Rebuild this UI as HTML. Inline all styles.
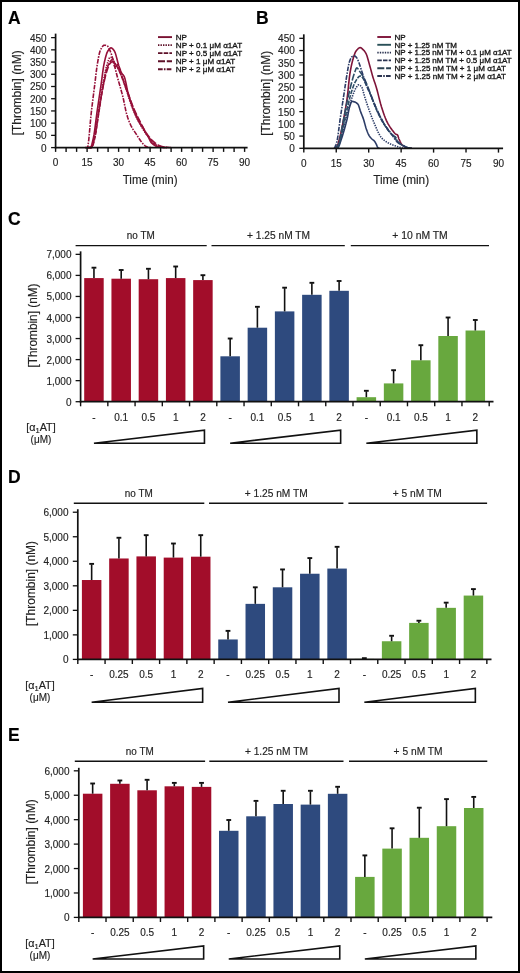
<!DOCTYPE html>
<html><head><meta charset="utf-8"><style>
html,body{margin:0;padding:0;background:#fff;}
body{width:520px;height:973px;overflow:hidden;}
svg{display:block;font-family:"Liberation Sans",sans-serif;will-change:transform;}
text{stroke-width:0.15px;paint-order:stroke;}
</style></head><body>
<svg width="520" height="973" viewBox="0 0 520 973">
<rect x="0" y="0" width="520" height="973" fill="#fff"/>
<text x="8.1" y="23.5" font-size="17.5" font-weight="bold" fill="#000" stroke="#000">A</text>
<path d="M87.1 147.6 L87.62 147.6 L88.15 147.6 L88.68 147.6 L89.2 147.6 L89.72 147.6 L90.25 147.6 L90.78 147.19 L91.3 146.07 L91.83 144.4 L92.35 142.36 L92.88 140.11 L93.4 137.82 L94 134.74 L94.59 130.81 L95.19 126.31 L95.78 121.54 L96.38 116.81 L96.97 112.41 L97.63 107.81 L98.3 103.26 L98.97 98.75 L99.63 94.26 L100.3 89.78 L100.96 85.28 L101.52 81.31 L102.08 77.12 L102.64 72.95 L103.2 68.98 L103.76 65.45 L104.32 62.55 L104.88 60.1 L105.44 57.79 L106 55.7 L106.56 53.88 L107.12 52.4 L107.68 51.31 L108.24 50.45 L108.8 49.64 L109.36 48.94 L109.92 48.38 L110.48 48.02 L111.04 47.88 L111.6 48.01 L112.16 48.35 L112.72 48.87 L113.28 49.52 L113.84 50.27 L114.4 51.06 L115.14 52.59 L115.87 54.88 L116.61 57.63 L117.34 60.55 L118.08 63.35 L118.81 65.73 L119.3 67.11 L119.79 68.46 L120.28 69.76 L120.77 70.98 L121.26 72.09 L121.75 73.06 L122.17 73.74 L122.59 74.3 L123.01 74.81 L123.43 75.33 L123.85 75.95 L124.27 76.72 L124.94 78.63 L125.6 81.33 L126.27 84.52 L126.93 87.88 L127.59 91.09 L128.26 93.83 L129.13 96.91 L130.01 99.82 L130.89 102.58 L131.76 105.19 L132.64 107.65 L133.51 109.96 L134.42 112.25 L135.33 114.45 L136.24 116.54 L137.15 118.5 L138.06 120.3 L138.97 121.94 L139.63 122.98 L140.3 123.91 L140.97 124.77 L141.63 125.62 L142.29 126.53 L142.96 127.56 L143.42 128.37 L143.87 129.28 L144.33 130.23 L144.78 131.18 L145.23 132.1 L145.69 132.94 L146.15 133.68 L146.6 134.35 L147.06 135 L147.51 135.65 L147.97 136.34 L148.42 137.09 L148.84 137.91 L149.26 138.84 L149.68 139.81 L150.1 140.75 L150.52 141.58 L150.94 142.22 L151.5 142.87 L152.06 143.43 L152.62 143.92 L153.18 144.36 L153.74 144.77 L154.3 145.16 L154.65 145.4 L155 145.64 L155.35 145.87 L155.7 146.08 L156.05 146.25 L156.4 146.38 L157.1 146.56 L157.8 146.7 L158.5 146.82 L159.2 146.92 L159.9 147.02 L160.6 147.11 L161.3 147.2 L162 147.29 L162.7 147.37 L163.4 147.44 L164.1 147.52 L164.8 147.6" fill="none" stroke="#961039" stroke-width="1.6" stroke-linejoin="round"/>
<path d="M87.1 147.6 L87.8 147.6 L88.5 147.6 L89.2 147.6 L89.9 147.6 L90.6 147.6 L91.3 147.6 L91.83 147.18 L92.35 146.03 L92.88 144.33 L93.4 142.28 L93.93 140.05 L94.45 137.82 L95.15 134.46 L95.85 130.29 L96.55 125.58 L97.25 120.61 L97.95 115.64 L98.65 110.94 L99.35 106.36 L100.05 101.66 L100.75 96.97 L101.45 92.39 L102.15 88.05 L102.85 84.06 L103.55 80.28 L104.25 76.58 L104.95 73.05 L105.65 69.8 L106.35 66.91 L107.05 64.5 L107.58 62.85 L108.1 61.18 L108.62 59.64 L109.15 58.36 L109.68 57.49 L110.2 57.17 L110.55 57.22 L110.9 57.35 L111.25 57.55 L111.6 57.81 L111.95 58.09 L112.3 58.39 L112.65 58.79 L113 59.34 L113.35 60 L113.7 60.7 L114.05 61.41 L114.4 62.06 L115.1 63.25 L115.8 64.41 L116.5 65.57 L117.2 66.77 L117.9 68.03 L118.6 69.39 L119.65 71.65 L120.7 74.11 L121.75 76.75 L122.8 79.51 L123.85 82.37 L124.9 85.28 L125.95 88.37 L127 91.7 L128.05 95.15 L129.1 98.58 L130.15 101.85 L131.2 104.83 L132.25 107.56 L133.3 110.18 L134.35 112.69 L135.4 115.07 L136.45 117.34 L137.5 119.49 L138.55 121.54 L139.6 123.49 L140.65 125.36 L141.7 127.15 L142.75 128.85 L143.8 130.49 L144.85 132.07 L145.9 133.61 L146.95 135.08 L148 136.49 L149.05 137.81 L150.1 139.05 L151.15 140.23 L152.2 141.4 L153.25 142.51 L154.3 143.53 L155.35 144.42 L156.4 145.16 L157.1 145.59 L157.8 146 L158.5 146.38 L159.2 146.71 L159.9 146.96 L160.6 147.11 L161.65 147.24 L162.7 147.33 L163.75 147.4 L164.8 147.47 L165.85 147.53 L166.9 147.6" fill="none" stroke="#961039" stroke-width="1.6" stroke-dasharray="1.4 1.1" stroke-linejoin="round"/>
<path d="M88.15 147.6 L88.75 147.6 L89.34 147.6 L89.94 147.6 L90.53 147.6 L91.12 147.6 L91.72 147.6 L92.25 147.18 L92.77 146.03 L93.3 144.33 L93.82 142.28 L94.34 140.05 L94.87 137.82 L95.57 134.44 L96.27 130.24 L96.97 125.51 L97.67 120.52 L98.37 115.57 L99.07 110.94 L99.77 106.5 L100.47 102.01 L101.17 97.55 L101.87 93.21 L102.57 89.09 L103.27 85.28 L103.9 81.99 L104.53 78.73 L105.16 75.61 L105.79 72.74 L106.42 70.22 L107.05 68.17 L107.58 66.74 L108.1 65.43 L108.62 64.25 L109.15 63.21 L109.68 62.31 L110.2 61.57 L110.55 61.12 L110.9 60.67 L111.25 60.26 L111.6 59.93 L111.95 59.7 L112.3 59.62 L112.65 59.82 L113 60.35 L113.35 61.08 L113.7 61.9 L114.05 62.67 L114.4 63.28 L114.75 63.73 L115.1 64.13 L115.45 64.49 L115.8 64.86 L116.15 65.26 L116.5 65.73 L117.2 66.83 L117.9 68.12 L118.6 69.55 L119.3 71.07 L120 72.67 L120.7 74.28 L121.75 76.83 L122.8 79.6 L123.85 82.51 L124.9 85.49 L125.95 88.48 L127 91.39 L128.05 94.29 L129.1 97.24 L130.15 100.2 L131.2 103.1 L132.25 105.88 L133.3 108.5 L134.35 110.95 L135.4 113.32 L136.45 115.59 L137.5 117.78 L138.55 119.89 L139.6 121.94 L140.65 123.92 L141.7 125.85 L142.75 127.71 L143.8 129.51 L144.85 131.25 L145.9 132.94 L146.6 134.03 L147.3 135.1 L148 136.14 L148.7 137.15 L149.4 138.12 L150.1 139.05 L150.8 139.97 L151.5 140.9 L152.2 141.81 L152.9 142.64 L153.6 143.36 L154.3 143.93 L155.35 144.62 L156.4 145.25 L157.45 145.79 L158.5 146.25 L159.55 146.61 L160.6 146.87 L161.65 147.04 L162.7 147.18 L163.75 147.29 L164.8 147.39 L165.85 147.49 L166.9 147.6" fill="none" stroke="#961039" stroke-width="1.6" stroke-dasharray="4.5 1.2" stroke-linejoin="round"/>
<path d="M88.15 147.6 L88.68 147.6 L89.2 147.6 L89.72 147.6 L90.25 147.6 L90.78 147.6 L91.3 147.6 L91.83 147.17 L92.35 146.01 L92.88 144.31 L93.4 142.25 L93.93 140.03 L94.45 137.82 L95.15 134.53 L95.85 130.5 L96.55 125.99 L97.25 121.26 L97.95 116.57 L98.65 112.16 L99.35 107.92 L100.05 103.61 L100.75 99.33 L101.45 95.19 L102.15 91.28 L102.85 87.72 L103.55 84.41 L104.25 81.21 L104.95 78.19 L105.65 75.38 L106.35 72.84 L107.05 70.61 L107.58 69.08 L108.1 67.59 L108.62 66.2 L109.15 64.98 L109.68 63.99 L110.2 63.28 L110.62 62.85 L111.04 62.45 L111.46 62.1 L111.88 61.82 L112.3 61.64 L112.72 61.57 L113.11 61.97 L113.49 62.97 L113.88 64.26 L114.26 65.55 L114.65 66.55 L115.03 66.95 L115.45 66.77 L115.87 66.31 L116.29 65.73 L116.71 65.14 L117.13 64.69 L117.55 64.5 L118.08 64.94 L118.6 66.09 L119.12 67.71 L119.65 69.57 L120.18 71.43 L120.7 73.06 L121.75 75.91 L122.8 78.76 L123.85 81.61 L124.9 84.46 L125.95 87.31 L127 90.17 L128.05 93.06 L129.1 96.02 L130.15 98.98 L131.2 101.88 L132.25 104.66 L133.3 107.27 L134.35 109.72 L135.4 112.06 L136.45 114.31 L137.5 116.49 L138.55 118.62 L139.6 120.72 L140.65 122.82 L141.7 124.92 L142.75 126.97 L143.8 128.94 L144.85 130.78 L145.9 132.45 L146.95 133.97 L148 135.42 L149.05 136.78 L150.1 138.04 L151.15 139.21 L152.2 140.27 L153.25 141.26 L154.3 142.22 L155.35 143.11 L156.4 143.92 L157.45 144.61 L158.5 145.16 L159.55 145.61 L160.6 146.02 L161.65 146.38 L162.7 146.7 L163.75 146.94 L164.8 147.11 L165.85 147.23 L166.9 147.32 L167.95 147.39 L169 147.46 L170.05 147.53 L171.1 147.6" fill="none" stroke="#961039" stroke-width="1.6" stroke-dasharray="7 1.8" stroke-linejoin="round"/>
<path d="M85 147.6 L85.39 147.6 L85.77 147.6 L86.16 147.6 L86.54 147.6 L86.92 147.6 L87.31 147.6 L87.97 145.77 L88.64 140.96 L89.31 134.2 L89.97 126.51 L90.64 118.9 L91.3 112.41 L91.86 107.74 L92.42 103.15 L92.98 98.62 L93.54 94.15 L94.1 89.7 L94.66 85.28 L95.15 81.29 L95.64 77.18 L96.13 73.09 L96.62 69.18 L97.11 65.62 L97.6 62.55 L98.06 59.99 L98.51 57.51 L98.97 55.22 L99.42 53.19 L99.88 51.53 L100.33 50.33 L101 48.99 L101.66 47.77 L102.33 46.73 L102.99 45.92 L103.66 45.39 L104.32 45.2 L104.78 45.21 L105.23 45.26 L105.69 45.33 L106.14 45.43 L106.59 45.55 L107.05 45.69 L107.58 46.04 L108.1 46.71 L108.62 47.63 L109.15 48.71 L109.68 49.88 L110.2 51.06 L111.43 54.31 L112.65 58.42 L113.88 63.11 L115.1 68.08 L116.33 73.04 L117.55 77.7 L118.43 80.8 L119.3 83.83 L120.18 86.85 L121.05 89.93 L121.93 93.13 L122.8 96.52 L123.5 99.54 L124.2 102.87 L124.9 106.32 L125.6 109.68 L126.3 112.75 L127 115.34 L127.7 117.53 L128.4 119.54 L129.1 121.39 L129.8 123.08 L130.5 124.65 L131.2 126.09 L132.04 127.67 L132.88 129.09 L133.72 130.41 L134.56 131.66 L135.4 132.9 L136.24 134.16 L137.15 135.57 L138.06 136.99 L138.97 138.4 L139.88 139.75 L140.79 141.04 L141.7 142.22 L142.22 142.88 L142.75 143.53 L143.28 144.16 L143.8 144.74 L144.33 145.24 L144.85 145.64 L145.38 145.98 L145.9 146.28 L146.43 146.56 L146.95 146.79 L147.47 146.98 L148 147.11 L148.7 147.23 L149.4 147.32 L150.1 147.4 L150.8 147.46 L151.5 147.53 L152.2 147.6" fill="none" stroke="#961039" stroke-width="1.6" stroke-dasharray="4.7 1.2 1.6 1.2" stroke-linejoin="round"/>
<line x1="55.6" y1="33.62" x2="55.6" y2="148.4" stroke="#111" stroke-width="1.7"/>
<line x1="54.8" y1="147.6" x2="247.6" y2="147.6" stroke="#111" stroke-width="1.7"/>
<line x1="51.1" y1="147.6" x2="55.6" y2="147.6" stroke="#111" stroke-width="1.3"/>
<text x="46.6" y="151.5" font-size="10" text-anchor="end" fill="#222" stroke="#222">0</text>
<line x1="51.1" y1="135.38" x2="55.6" y2="135.38" stroke="#111" stroke-width="1.3"/>
<text x="46.6" y="139.28" font-size="10" text-anchor="end" fill="#222" stroke="#222">50</text>
<line x1="51.1" y1="123.16" x2="55.6" y2="123.16" stroke="#111" stroke-width="1.3"/>
<text x="46.6" y="127.06" font-size="10" text-anchor="end" fill="#222" stroke="#222">100</text>
<line x1="51.1" y1="110.94" x2="55.6" y2="110.94" stroke="#111" stroke-width="1.3"/>
<text x="46.6" y="114.84" font-size="10" text-anchor="end" fill="#222" stroke="#222">150</text>
<line x1="51.1" y1="98.72" x2="55.6" y2="98.72" stroke="#111" stroke-width="1.3"/>
<text x="46.6" y="102.62" font-size="10" text-anchor="end" fill="#222" stroke="#222">200</text>
<line x1="51.1" y1="86.5" x2="55.6" y2="86.5" stroke="#111" stroke-width="1.3"/>
<text x="46.6" y="90.4" font-size="10" text-anchor="end" fill="#222" stroke="#222">250</text>
<line x1="51.1" y1="74.28" x2="55.6" y2="74.28" stroke="#111" stroke-width="1.3"/>
<text x="46.6" y="78.18" font-size="10" text-anchor="end" fill="#222" stroke="#222">300</text>
<line x1="51.1" y1="62.06" x2="55.6" y2="62.06" stroke="#111" stroke-width="1.3"/>
<text x="46.6" y="65.96" font-size="10" text-anchor="end" fill="#222" stroke="#222">350</text>
<line x1="51.1" y1="49.84" x2="55.6" y2="49.84" stroke="#111" stroke-width="1.3"/>
<text x="46.6" y="53.74" font-size="10" text-anchor="end" fill="#222" stroke="#222">400</text>
<line x1="51.1" y1="37.62" x2="55.6" y2="37.62" stroke="#111" stroke-width="1.3"/>
<text x="46.6" y="41.52" font-size="10" text-anchor="end" fill="#222" stroke="#222">450</text>
<line x1="55.6" y1="147.6" x2="55.6" y2="151.9" stroke="#111" stroke-width="1.4"/>
<line x1="66.1" y1="147.6" x2="66.1" y2="151.9" stroke="#111" stroke-width="1.4"/>
<line x1="76.6" y1="147.6" x2="76.6" y2="151.9" stroke="#111" stroke-width="1.4"/>
<line x1="87.1" y1="147.6" x2="87.1" y2="151.9" stroke="#111" stroke-width="1.4"/>
<line x1="97.6" y1="147.6" x2="97.6" y2="151.9" stroke="#111" stroke-width="1.4"/>
<line x1="108.1" y1="147.6" x2="108.1" y2="151.9" stroke="#111" stroke-width="1.4"/>
<line x1="118.6" y1="147.6" x2="118.6" y2="151.9" stroke="#111" stroke-width="1.4"/>
<line x1="129.1" y1="147.6" x2="129.1" y2="151.9" stroke="#111" stroke-width="1.4"/>
<line x1="139.6" y1="147.6" x2="139.6" y2="151.9" stroke="#111" stroke-width="1.4"/>
<line x1="150.1" y1="147.6" x2="150.1" y2="151.9" stroke="#111" stroke-width="1.4"/>
<line x1="160.6" y1="147.6" x2="160.6" y2="151.9" stroke="#111" stroke-width="1.4"/>
<line x1="171.1" y1="147.6" x2="171.1" y2="151.9" stroke="#111" stroke-width="1.4"/>
<line x1="181.6" y1="147.6" x2="181.6" y2="151.9" stroke="#111" stroke-width="1.4"/>
<line x1="192.1" y1="147.6" x2="192.1" y2="151.9" stroke="#111" stroke-width="1.4"/>
<line x1="202.6" y1="147.6" x2="202.6" y2="151.9" stroke="#111" stroke-width="1.4"/>
<line x1="213.1" y1="147.6" x2="213.1" y2="151.9" stroke="#111" stroke-width="1.4"/>
<line x1="223.6" y1="147.6" x2="223.6" y2="151.9" stroke="#111" stroke-width="1.4"/>
<line x1="234.1" y1="147.6" x2="234.1" y2="151.9" stroke="#111" stroke-width="1.4"/>
<line x1="244.6" y1="147.6" x2="244.6" y2="151.9" stroke="#111" stroke-width="1.4"/>
<text x="55.6" y="166.1" font-size="10" text-anchor="middle" fill="#222" stroke="#222">0</text>
<text x="87.1" y="166.1" font-size="10" text-anchor="middle" fill="#222" stroke="#222">15</text>
<text x="118.6" y="166.1" font-size="10" text-anchor="middle" fill="#222" stroke="#222">30</text>
<text x="150.1" y="166.1" font-size="10" text-anchor="middle" fill="#222" stroke="#222">45</text>
<text x="181.6" y="166.1" font-size="10" text-anchor="middle" fill="#222" stroke="#222">60</text>
<text x="213.1" y="166.1" font-size="10" text-anchor="middle" fill="#222" stroke="#222">75</text>
<text x="244.6" y="166.1" font-size="10" text-anchor="middle" fill="#222" stroke="#222">90</text>
<text x="150.1" y="183.6" font-size="12.3" text-anchor="middle" textLength="54.8" lengthAdjust="spacingAndGlyphs" fill="#222" stroke="#222">Time (min)</text>
<text transform="translate(21.4 92.8) rotate(-90)" text-anchor="middle" font-size="12" fill="#222" stroke="#222" textLength="85" lengthAdjust="spacingAndGlyphs">[Thrombin] (nM)</text>
<line x1="158" y1="37.1" x2="172" y2="37.1" stroke="#7a1232" stroke-width="1.9"/>
<text x="175.8" y="39.9" font-size="7.7" textLength="11.2" lengthAdjust="spacingAndGlyphs" fill="#151515" stroke="#151515" style="stroke-width:0.32px">NP</text>
<line x1="158" y1="45.13" x2="172" y2="45.13" stroke="#5e1028" stroke-width="1.9" stroke-dasharray="1.4 1.1"/>
<text x="175.8" y="47.93" font-size="7.7" textLength="66.3" lengthAdjust="spacingAndGlyphs" fill="#151515" stroke="#151515" style="stroke-width:0.32px">NP + 0.1 μM α1AT</text>
<line x1="158" y1="53.16" x2="172" y2="53.16" stroke="#5e1028" stroke-width="1.9" stroke-dasharray="4.5 1.2"/>
<text x="175.8" y="55.96" font-size="7.7" textLength="66.3" lengthAdjust="spacingAndGlyphs" fill="#151515" stroke="#151515" style="stroke-width:0.32px">NP + 0.5 μM α1AT</text>
<line x1="158" y1="61.19" x2="172" y2="61.19" stroke="#5e1028" stroke-width="1.9" stroke-dasharray="7 1.8"/>
<text x="175.8" y="63.99" font-size="7.7" textLength="59.4" lengthAdjust="spacingAndGlyphs" fill="#151515" stroke="#151515" style="stroke-width:0.32px">NP + 1 μM α1AT</text>
<line x1="158" y1="69.22" x2="172" y2="69.22" stroke="#5e1028" stroke-width="1.9" stroke-dasharray="4.7 1.2 1.6 1.2"/>
<text x="175.8" y="72.02" font-size="7.7" textLength="59.4" lengthAdjust="spacingAndGlyphs" fill="#151515" stroke="#151515" style="stroke-width:0.32px">NP + 2 μM α1AT</text>
<text x="255.9" y="23.6" font-size="17.5" font-weight="bold" fill="#000" stroke="#000">B</text>
<path d="M334.08 148.3 L334.55 148 L335.02 147.74 L335.49 147.47 L335.96 147.17 L336.43 146.81 L336.89 146.34 L337.43 145.45 L337.98 144.06 L338.52 142.31 L339.06 140.31 L339.6 138.19 L340.14 136.08 L340.72 133.72 L341.29 131.11 L341.87 128.29 L342.45 125.34 L343.02 122.29 L343.6 119.22 L344.18 116.15 L344.75 113.05 L345.33 109.85 L345.91 106.47 L346.48 102.85 L347.06 98.93 L347.53 95.18 L348 90.82 L348.47 86.18 L348.93 81.6 L349.4 77.43 L349.87 74 L350.34 71.18 L350.81 68.58 L351.28 66.2 L351.75 64.04 L352.22 62.08 L352.68 60.32 L353.22 58.41 L353.77 56.58 L354.31 54.89 L354.85 53.4 L355.39 52.18 L355.93 51.27 L356.65 50.33 L357.37 49.47 L358.09 48.72 L358.81 48.13 L359.53 47.75 L360.25 47.61 L360.76 47.7 L361.26 47.96 L361.77 48.34 L362.27 48.81 L362.78 49.31 L363.28 49.81 L363.75 50.28 L364.22 50.82 L364.69 51.42 L365.16 52.1 L365.63 52.86 L366.09 53.72 L366.67 55.05 L367.25 56.74 L367.82 58.69 L368.4 60.79 L368.98 62.91 L369.56 64.96 L370.13 66.99 L370.71 69.1 L371.29 71.25 L371.86 73.39 L372.44 75.46 L373.02 77.42 L373.56 79.13 L374.1 80.74 L374.64 82.3 L375.18 83.86 L375.72 85.48 L376.26 87.2 L377.13 90.27 L377.99 93.61 L378.86 97.09 L379.72 100.54 L380.59 103.82 L381.45 106.75 L382.43 109.77 L383.4 112.69 L384.37 115.45 L385.35 118.02 L386.32 120.35 L387.29 122.39 L388.23 124.12 L389.17 125.69 L390.1 127.14 L391.04 128.47 L391.98 129.74 L392.92 130.95 L393.38 131.56 L393.85 132.18 L394.32 132.78 L394.79 133.32 L395.26 133.78 L395.73 134.12 L396.02 134.27 L396.3 134.37 L396.59 134.46 L396.88 134.55 L397.17 134.68 L397.46 134.86 L397.71 135.22 L397.96 135.86 L398.21 136.66 L398.47 137.53 L398.72 138.35 L398.97 139.01 L399.58 140.34 L400.2 141.62 L400.81 142.8 L401.42 143.85 L402.04 144.72 L402.65 145.37 L403.3 145.9 L403.95 146.37 L404.6 146.77 L405.24 147.11 L405.89 147.38 L406.54 147.57 L407.44 147.75 L408.35 147.88 L409.25 147.99 L410.15 148.09 L411.05 148.19 L411.95 148.3" fill="none" stroke="#7e1438" stroke-width="1.6" stroke-linejoin="round"/>
<path d="M335.16 148.3 L335.63 148.19 L336.1 148.1 L336.57 148 L337.04 147.9 L337.51 147.75 L337.98 147.57 L338.52 147.01 L339.06 145.94 L339.6 144.5 L340.14 142.85 L340.68 141.14 L341.22 139.5 L342.19 136.63 L343.17 133.55 L344.14 130.28 L345.11 126.8 L346.09 123.12 L347.06 119.22 L347.49 117.24 L347.93 114.99 L348.36 112.64 L348.79 110.37 L349.22 108.35 L349.66 106.75 L350.05 105.51 L350.45 104.28 L350.85 103.15 L351.24 102.23 L351.64 101.61 L352.03 101.38 L352.4 101.4 L352.76 101.45 L353.12 101.53 L353.48 101.64 L353.84 101.75 L354.2 101.86 L354.81 102.08 L355.42 102.33 L356.04 102.64 L356.65 103.03 L357.26 103.5 L357.88 104.06 L358.34 104.8 L358.81 105.95 L359.28 107.38 L359.75 108.95 L360.22 110.5 L360.69 111.88 L361.16 113.11 L361.62 114.29 L362.09 115.45 L362.56 116.63 L363.03 117.88 L363.5 119.22 L363.97 120.73 L364.44 122.41 L364.9 124.17 L365.37 125.91 L365.84 127.55 L366.31 128.99 L366.78 130.29 L367.25 131.54 L367.72 132.71 L368.19 133.8 L368.65 134.76 L369.12 135.59 L369.59 136.3 L370.06 136.95 L370.53 137.53 L371 138.06 L371.47 138.55 L371.93 139.01 L372.3 139.32 L372.66 139.59 L373.02 139.84 L373.38 140.09 L373.74 140.38 L374.1 140.72 L374.49 141.2 L374.89 141.77 L375.29 142.42 L375.68 143.13 L376.08 143.87 L376.48 144.63 L376.69 145.12 L376.91 145.7 L377.13 146.29 L377.34 146.85 L377.56 147.3 L377.77 147.57 L378.06 147.75 L378.35 147.89 L378.64 148 L378.93 148.1 L379.22 148.19 L379.5 148.3" fill="none" stroke="#2c3c66" stroke-width="1.6" stroke-linejoin="round"/>
<path d="M335.81 148.3 L336.25 147.92 L336.68 147.57 L337.11 147.23 L337.54 146.85 L337.98 146.4 L338.41 145.86 L339.13 144.43 L339.85 142.32 L340.57 139.74 L341.29 136.88 L342.01 133.97 L342.73 131.19 L343.45 128.46 L344.18 125.59 L344.9 122.64 L345.62 119.69 L346.34 116.81 L347.06 114.08 L347.78 111.46 L348.5 108.87 L349.22 106.35 L349.94 103.91 L350.67 101.6 L351.39 99.42 L352.11 97.31 L352.83 95.22 L353.55 93.22 L354.27 91.37 L354.99 89.75 L355.71 88.42 L356.22 87.59 L356.72 86.75 L357.23 85.98 L357.73 85.35 L358.24 84.91 L358.74 84.76 L359.24 84.84 L359.75 85.09 L360.25 85.48 L360.76 85.98 L361.26 86.56 L361.77 87.2 L362.2 88.04 L362.63 89.31 L363.07 90.87 L363.5 92.57 L363.93 94.24 L364.36 95.75 L364.98 97.7 L365.59 99.62 L366.2 101.53 L366.82 103.4 L367.43 105.22 L368.04 107 L369.01 109.75 L369.99 112.45 L370.96 115.09 L371.93 117.64 L372.91 120.08 L373.88 122.39 L375.14 125.37 L376.4 128.38 L377.67 131.27 L378.93 133.9 L380.19 136.12 L381.45 137.79 L382.75 139.08 L384.05 140.19 L385.35 141.15 L386.64 141.99 L387.94 142.73 L389.24 143.41 L390.5 144.01 L391.76 144.55 L393.02 145.04 L394.29 145.49 L395.55 145.92 L396.81 146.34 L397.89 146.7 L398.97 147.03 L400.05 147.35 L401.13 147.67 L402.22 147.98 L403.3 148.3" fill="none" stroke="#2c3c66" stroke-width="1.6" stroke-dasharray="1.4 1.1" stroke-linejoin="round"/>
<path d="M335.81 148.3 L336.25 147.92 L336.68 147.58 L337.11 147.24 L337.54 146.86 L337.98 146.42 L338.41 145.86 L339.13 144.29 L339.85 141.85 L340.57 138.8 L341.29 135.42 L342.01 131.98 L342.73 128.75 L343.45 125.61 L344.18 122.33 L344.9 118.97 L345.62 115.62 L346.34 112.33 L347.06 109.2 L347.78 106.13 L348.5 103.05 L349.22 100.03 L349.94 97.16 L350.67 94.48 L351.39 92.09 L352.11 89.88 L352.83 87.76 L353.55 85.76 L354.27 83.96 L354.99 82.38 L355.71 81.09 L356.47 79.88 L357.23 78.7 L357.98 77.63 L358.74 76.76 L359.5 76.17 L360.25 75.96 L360.76 76.07 L361.26 76.36 L361.77 76.81 L362.27 77.36 L362.78 77.99 L363.28 78.65 L363.64 79.22 L364 79.97 L364.36 80.84 L364.72 81.76 L365.08 82.68 L365.45 83.53 L366.2 85.21 L366.96 86.86 L367.72 88.5 L368.47 90.15 L369.23 91.83 L369.99 93.55 L371.29 96.67 L372.58 99.96 L373.88 103.31 L375.18 106.61 L376.48 109.75 L377.77 112.62 L379.04 115.19 L380.3 117.66 L381.56 120.01 L382.82 122.24 L384.08 124.34 L385.35 126.3 L386.32 127.74 L387.29 129.11 L388.27 130.42 L389.24 131.65 L390.21 132.81 L391.19 133.88 L391.58 134.29 L391.98 134.67 L392.37 135.04 L392.77 135.39 L393.17 135.74 L393.56 136.08 L393.82 136.28 L394.07 136.46 L394.32 136.63 L394.57 136.81 L394.83 137.03 L395.08 137.3 L395.37 137.8 L395.66 138.54 L395.94 139.39 L396.23 140.23 L396.52 140.96 L396.81 141.46 L397.78 142.46 L398.76 143.25 L399.73 143.88 L400.7 144.4 L401.68 144.88 L402.65 145.37 L403.48 145.81 L404.31 146.24 L405.14 146.65 L405.97 147.01 L406.79 147.33 L407.62 147.57 L408.35 147.73 L409.07 147.86 L409.79 147.97 L410.51 148.08 L411.23 148.19 L411.95 148.3" fill="none" stroke="#2d4d66" stroke-width="1.6" stroke-dasharray="4.5 1.2" stroke-linejoin="round"/>
<path d="M335.38 148.3 L335.88 147.74 L336.39 147.23 L336.89 146.72 L337.4 146.15 L337.9 145.48 L338.41 144.63 L339.13 142.65 L339.85 139.63 L340.57 135.91 L341.29 131.81 L342.01 127.68 L342.73 123.86 L343.45 120.22 L344.18 116.47 L344.9 112.69 L345.62 108.95 L346.34 105.31 L347.06 101.86 L347.78 98.57 L348.5 95.35 L349.22 92.23 L349.94 89.21 L350.67 86.3 L351.39 83.53 L351.93 81.51 L352.47 79.5 L353.01 77.57 L353.55 75.73 L354.09 74.04 L354.63 72.54 L354.99 71.54 L355.35 70.5 L355.71 69.51 L356.07 68.68 L356.43 68.11 L356.79 67.89 L357.26 68.06 L357.73 68.51 L358.2 69.14 L358.67 69.88 L359.14 70.63 L359.61 71.31 L360.04 71.88 L360.47 72.46 L360.9 73.05 L361.34 73.66 L361.77 74.3 L362.2 74.98 L362.74 75.87 L363.28 76.82 L363.82 77.82 L364.36 78.86 L364.9 79.95 L365.45 81.09 L366.2 82.8 L366.96 84.67 L367.72 86.63 L368.47 88.64 L369.23 90.64 L369.99 92.58 L371.29 95.85 L372.58 99.17 L373.88 102.47 L375.18 105.69 L376.48 108.77 L377.77 111.64 L379.04 114.28 L380.3 116.82 L381.56 119.27 L382.82 121.59 L384.08 123.78 L385.35 125.82 L386.32 127.31 L387.29 128.76 L388.27 130.14 L389.24 131.43 L390.21 132.6 L391.19 133.64 L391.69 134.1 L392.19 134.52 L392.7 134.92 L393.2 135.29 L393.71 135.68 L394.21 136.08 L394.5 136.3 L394.79 136.51 L395.08 136.72 L395.37 136.95 L395.66 137.22 L395.94 137.55 L396.2 137.97 L396.45 138.56 L396.7 139.24 L396.95 139.92 L397.21 140.52 L397.46 140.97 L398.32 142.03 L399.19 142.92 L400.05 143.66 L400.92 144.3 L401.78 144.85 L402.65 145.37 L403.48 145.84 L404.31 146.28 L405.14 146.68 L405.97 147.03 L406.79 147.33 L407.62 147.57 L408.35 147.73 L409.07 147.86 L409.79 147.97 L410.51 148.08 L411.23 148.19 L411.95 148.3" fill="none" stroke="#2d4d66" stroke-width="1.6" stroke-dasharray="7 1.8" stroke-linejoin="round"/>
<path d="M334.51 148.3 L334.91 147.26 L335.31 146.29 L335.7 145.33 L336.1 144.29 L336.5 143.1 L336.89 141.7 L337.43 139.09 L337.98 135.63 L338.52 131.62 L339.06 127.36 L339.6 123.12 L340.14 119.22 L340.72 115.35 L341.29 111.54 L341.87 107.76 L342.45 104 L343.02 100.25 L343.6 96.49 L344.18 92.67 L344.75 88.8 L345.33 84.93 L345.91 81.13 L346.48 77.47 L347.06 74 L347.42 71.85 L347.78 69.66 L348.14 67.52 L348.5 65.54 L348.86 63.84 L349.22 62.52 L349.69 61.12 L350.16 59.83 L350.63 58.68 L351.1 57.74 L351.57 57.05 L352.03 56.65 L352.47 56.45 L352.9 56.27 L353.33 56.12 L353.77 56.01 L354.2 55.94 L354.63 55.92 L354.99 56 L355.35 56.22 L355.71 56.55 L356.07 56.95 L356.43 57.4 L356.79 57.87 L357.15 58.43 L357.51 59.14 L357.88 59.97 L358.24 60.88 L358.6 61.82 L358.96 62.76 L359.5 64.22 L360.04 65.8 L360.58 67.46 L361.12 69.17 L361.66 70.87 L362.2 72.54 L362.74 74.19 L363.28 75.87 L363.82 77.55 L364.36 79.2 L364.9 80.8 L365.45 82.31 L366.2 84.3 L366.96 86.18 L367.72 87.99 L368.47 89.76 L369.23 91.52 L369.99 93.31 L371.29 96.45 L372.58 99.62 L373.88 102.77 L375.18 105.86 L376.48 108.83 L377.77 111.64 L379.04 114.24 L380.3 116.78 L381.56 119.23 L382.82 121.57 L384.08 123.77 L385.35 125.82 L386.32 127.26 L387.29 128.59 L388.27 129.86 L389.24 131.1 L390.21 132.34 L391.19 133.64 L392.12 134.99 L393.06 136.42 L394 137.87 L394.93 139.24 L395.87 140.47 L396.81 141.46 L397.78 142.29 L398.76 143.03 L399.73 143.69 L400.7 144.29 L401.68 144.84 L402.65 145.37 L403.48 145.81 L404.31 146.24 L405.14 146.65 L405.97 147.01 L406.79 147.33 L407.62 147.57 L408.35 147.73 L409.07 147.86 L409.79 147.97 L410.51 148.08 L411.23 148.19 L411.95 148.3" fill="none" stroke="#2c3c66" stroke-width="1.6" stroke-dasharray="4.7 1.2 1.6 1.2" stroke-linejoin="round"/>
<line x1="303.8" y1="34.32" x2="303.8" y2="149.1" stroke="#111" stroke-width="1.7"/>
<line x1="303" y1="148.3" x2="503.07" y2="148.3" stroke="#111" stroke-width="1.7"/>
<line x1="299.3" y1="148.3" x2="303.8" y2="148.3" stroke="#111" stroke-width="1.3"/>
<text x="294.8" y="152.2" font-size="10" text-anchor="end" fill="#222" stroke="#222">0</text>
<line x1="299.3" y1="136.08" x2="303.8" y2="136.08" stroke="#111" stroke-width="1.3"/>
<text x="294.8" y="139.98" font-size="10" text-anchor="end" fill="#222" stroke="#222">50</text>
<line x1="299.3" y1="123.86" x2="303.8" y2="123.86" stroke="#111" stroke-width="1.3"/>
<text x="294.8" y="127.76" font-size="10" text-anchor="end" fill="#222" stroke="#222">100</text>
<line x1="299.3" y1="111.64" x2="303.8" y2="111.64" stroke="#111" stroke-width="1.3"/>
<text x="294.8" y="115.54" font-size="10" text-anchor="end" fill="#222" stroke="#222">150</text>
<line x1="299.3" y1="99.42" x2="303.8" y2="99.42" stroke="#111" stroke-width="1.3"/>
<text x="294.8" y="103.32" font-size="10" text-anchor="end" fill="#222" stroke="#222">200</text>
<line x1="299.3" y1="87.2" x2="303.8" y2="87.2" stroke="#111" stroke-width="1.3"/>
<text x="294.8" y="91.1" font-size="10" text-anchor="end" fill="#222" stroke="#222">250</text>
<line x1="299.3" y1="74.98" x2="303.8" y2="74.98" stroke="#111" stroke-width="1.3"/>
<text x="294.8" y="78.88" font-size="10" text-anchor="end" fill="#222" stroke="#222">300</text>
<line x1="299.3" y1="62.76" x2="303.8" y2="62.76" stroke="#111" stroke-width="1.3"/>
<text x="294.8" y="66.66" font-size="10" text-anchor="end" fill="#222" stroke="#222">350</text>
<line x1="299.3" y1="50.54" x2="303.8" y2="50.54" stroke="#111" stroke-width="1.3"/>
<text x="294.8" y="54.44" font-size="10" text-anchor="end" fill="#222" stroke="#222">400</text>
<line x1="299.3" y1="38.32" x2="303.8" y2="38.32" stroke="#111" stroke-width="1.3"/>
<text x="294.8" y="42.22" font-size="10" text-anchor="end" fill="#222" stroke="#222">450</text>
<line x1="303.8" y1="148.3" x2="303.8" y2="152.6" stroke="#111" stroke-width="1.4"/>
<line x1="336.25" y1="148.3" x2="336.25" y2="152.6" stroke="#111" stroke-width="1.4"/>
<line x1="368.69" y1="148.3" x2="368.69" y2="152.6" stroke="#111" stroke-width="1.4"/>
<line x1="401.13" y1="148.3" x2="401.13" y2="152.6" stroke="#111" stroke-width="1.4"/>
<line x1="433.58" y1="148.3" x2="433.58" y2="152.6" stroke="#111" stroke-width="1.4"/>
<line x1="466.02" y1="148.3" x2="466.02" y2="152.6" stroke="#111" stroke-width="1.4"/>
<line x1="498.47" y1="148.3" x2="498.47" y2="152.6" stroke="#111" stroke-width="1.4"/>
<text x="303.8" y="166.8" font-size="10" text-anchor="middle" fill="#222" stroke="#222">0</text>
<text x="336.25" y="166.8" font-size="10" text-anchor="middle" fill="#222" stroke="#222">15</text>
<text x="368.69" y="166.8" font-size="10" text-anchor="middle" fill="#222" stroke="#222">30</text>
<text x="401.13" y="166.8" font-size="10" text-anchor="middle" fill="#222" stroke="#222">45</text>
<text x="433.58" y="166.8" font-size="10" text-anchor="middle" fill="#222" stroke="#222">60</text>
<text x="466.02" y="166.8" font-size="10" text-anchor="middle" fill="#222" stroke="#222">75</text>
<text x="498.47" y="166.8" font-size="10" text-anchor="middle" fill="#222" stroke="#222">90</text>
<text x="401.13" y="184.3" font-size="12.3" text-anchor="middle" textLength="56" lengthAdjust="spacingAndGlyphs" fill="#222" stroke="#222">Time (min)</text>
<text transform="translate(270 93.3) rotate(-90)" text-anchor="middle" font-size="12" fill="#222" stroke="#222" textLength="85" lengthAdjust="spacingAndGlyphs">[Thrombin] (nM)</text>
<line x1="377.3" y1="37" x2="391" y2="37" stroke="#7e1438" stroke-width="1.9"/>
<text x="394.5" y="39.8" font-size="7.7" textLength="11.2" lengthAdjust="spacingAndGlyphs" fill="#151515" stroke="#151515" style="stroke-width:0.32px">NP</text>
<line x1="377.3" y1="44.8" x2="391" y2="44.8" stroke="#2a5058" stroke-width="1.9"/>
<text x="394.5" y="47.6" font-size="7.7" textLength="62.4" lengthAdjust="spacingAndGlyphs" fill="#151515" stroke="#151515" style="stroke-width:0.32px">NP + 1.25 nM TM</text>
<line x1="377.3" y1="52.6" x2="391" y2="52.6" stroke="#2a3350" stroke-width="1.9" stroke-dasharray="1.4 1.1"/>
<text x="394.5" y="55.4" font-size="7.7" textLength="117.2" lengthAdjust="spacingAndGlyphs" fill="#151515" stroke="#151515" style="stroke-width:0.32px">NP + 1.25 nM TM + 0.1 μM α1AT</text>
<line x1="377.3" y1="60.4" x2="391" y2="60.4" stroke="#2a3350" stroke-width="1.9" stroke-dasharray="4.5 1.2"/>
<text x="394.5" y="63.2" font-size="7.7" textLength="117.2" lengthAdjust="spacingAndGlyphs" fill="#151515" stroke="#151515" style="stroke-width:0.32px">NP + 1.25 nM TM + 0.5 μM α1AT</text>
<line x1="377.3" y1="68.2" x2="391" y2="68.2" stroke="#2a4050" stroke-width="1.9" stroke-dasharray="7 1.8"/>
<text x="394.5" y="71" font-size="7.7" textLength="111.5" lengthAdjust="spacingAndGlyphs" fill="#151515" stroke="#151515" style="stroke-width:0.32px">NP + 1.25 nM TM + 1 μM α1AT</text>
<line x1="377.3" y1="76" x2="391" y2="76" stroke="#2a3350" stroke-width="1.9" stroke-dasharray="4.7 1.2 1.6 1.2"/>
<text x="394.5" y="78.8" font-size="7.7" textLength="111.5" lengthAdjust="spacingAndGlyphs" fill="#151515" stroke="#151515" style="stroke-width:0.32px">NP + 1.25 nM TM + 2 μM α1AT</text>
<text x="8.1" y="225" font-size="17.5" font-weight="bold" fill="#000" stroke="#000">C</text>
<rect x="84.2" y="278.09" width="19.5" height="123.61" fill="#a20d2a"/>
<rect x="111.44" y="278.7" width="19.5" height="123" fill="#a20d2a"/>
<rect x="138.68" y="279.21" width="19.5" height="122.49" fill="#a20d2a"/>
<rect x="165.92" y="278.09" width="19.5" height="123.61" fill="#a20d2a"/>
<rect x="193.16" y="280.09" width="19.5" height="121.61" fill="#a20d2a"/>
<rect x="220.4" y="356.3" width="19.5" height="45.4" fill="#2e4a7e"/>
<rect x="247.64" y="327.71" width="19.5" height="73.99" fill="#2e4a7e"/>
<rect x="274.88" y="311.4" width="19.5" height="90.3" fill="#2e4a7e"/>
<rect x="302.12" y="294.81" width="19.5" height="106.89" fill="#2e4a7e"/>
<rect x="329.36" y="290.81" width="19.5" height="110.89" fill="#2e4a7e"/>
<rect x="356.6" y="397.2" width="19.5" height="4.5" fill="#68a83e"/>
<rect x="383.84" y="383.41" width="19.5" height="18.29" fill="#68a83e"/>
<rect x="411.08" y="360.29" width="19.5" height="41.41" fill="#68a83e"/>
<rect x="438.32" y="336" width="19.5" height="65.7" fill="#68a83e"/>
<rect x="465.56" y="330.51" width="19.5" height="71.19" fill="#68a83e"/>
<line x1="93.95" y1="278.09" x2="93.95" y2="268.2" stroke="#111" stroke-width="1.6"/>
<line x1="91.55" y1="267.7" x2="96.35" y2="267.7" stroke="#111" stroke-width="1.9"/>
<line x1="121.19" y1="278.7" x2="121.19" y2="270.51" stroke="#111" stroke-width="1.6"/>
<line x1="118.79" y1="270.01" x2="123.59" y2="270.01" stroke="#111" stroke-width="1.9"/>
<line x1="148.43" y1="279.21" x2="148.43" y2="269.29" stroke="#111" stroke-width="1.6"/>
<line x1="146.03" y1="268.79" x2="150.83" y2="268.79" stroke="#111" stroke-width="1.9"/>
<line x1="175.67" y1="278.09" x2="175.67" y2="267" stroke="#111" stroke-width="1.6"/>
<line x1="173.27" y1="266.5" x2="178.07" y2="266.5" stroke="#111" stroke-width="1.9"/>
<line x1="202.91" y1="280.09" x2="202.91" y2="275.69" stroke="#111" stroke-width="1.6"/>
<line x1="200.51" y1="275.19" x2="205.31" y2="275.19" stroke="#111" stroke-width="1.9"/>
<line x1="230.15" y1="356.3" x2="230.15" y2="339.01" stroke="#111" stroke-width="1.6"/>
<line x1="227.75" y1="338.51" x2="232.55" y2="338.51" stroke="#111" stroke-width="1.9"/>
<line x1="257.39" y1="327.71" x2="257.39" y2="307.31" stroke="#111" stroke-width="1.6"/>
<line x1="254.99" y1="306.81" x2="259.79" y2="306.81" stroke="#111" stroke-width="1.9"/>
<line x1="284.63" y1="311.4" x2="284.63" y2="288.19" stroke="#111" stroke-width="1.6"/>
<line x1="282.23" y1="287.69" x2="287.03" y2="287.69" stroke="#111" stroke-width="1.9"/>
<line x1="311.87" y1="294.81" x2="311.87" y2="283.31" stroke="#111" stroke-width="1.6"/>
<line x1="309.47" y1="282.81" x2="314.27" y2="282.81" stroke="#111" stroke-width="1.9"/>
<line x1="339.11" y1="290.81" x2="339.11" y2="281.5" stroke="#111" stroke-width="1.6"/>
<line x1="336.71" y1="281" x2="341.51" y2="281" stroke="#111" stroke-width="1.9"/>
<line x1="366.35" y1="397.2" x2="366.35" y2="391.3" stroke="#111" stroke-width="1.6"/>
<line x1="363.95" y1="390.8" x2="368.75" y2="390.8" stroke="#111" stroke-width="1.9"/>
<line x1="393.59" y1="383.41" x2="393.59" y2="370.71" stroke="#111" stroke-width="1.6"/>
<line x1="391.19" y1="370.21" x2="395.99" y2="370.21" stroke="#111" stroke-width="1.9"/>
<line x1="420.83" y1="360.29" x2="420.83" y2="345.7" stroke="#111" stroke-width="1.6"/>
<line x1="418.43" y1="345.2" x2="423.23" y2="345.2" stroke="#111" stroke-width="1.9"/>
<line x1="448.07" y1="336" x2="448.07" y2="318" stroke="#111" stroke-width="1.6"/>
<line x1="445.67" y1="317.5" x2="450.47" y2="317.5" stroke="#111" stroke-width="1.9"/>
<line x1="475.31" y1="330.51" x2="475.31" y2="320.5" stroke="#111" stroke-width="1.6"/>
<line x1="472.91" y1="320" x2="477.71" y2="320" stroke="#111" stroke-width="1.9"/>
<line x1="80.6" y1="251.35" x2="80.6" y2="402.5" stroke="#111" stroke-width="1.7"/>
<line x1="79.8" y1="401.7" x2="493.5" y2="401.7" stroke="#111" stroke-width="1.7"/>
<line x1="75.6" y1="401.7" x2="80.6" y2="401.7" stroke="#111" stroke-width="1.3"/>
<text x="71.5" y="405.7" font-size="10" text-anchor="end" fill="#222" stroke="#222">0</text>
<line x1="75.6" y1="380.65" x2="80.6" y2="380.65" stroke="#111" stroke-width="1.3"/>
<text x="71.5" y="384.65" font-size="10" text-anchor="end" fill="#222" stroke="#222">1,000</text>
<line x1="75.6" y1="359.6" x2="80.6" y2="359.6" stroke="#111" stroke-width="1.3"/>
<text x="71.5" y="363.6" font-size="10" text-anchor="end" fill="#222" stroke="#222">2,000</text>
<line x1="75.6" y1="338.55" x2="80.6" y2="338.55" stroke="#111" stroke-width="1.3"/>
<text x="71.5" y="342.55" font-size="10" text-anchor="end" fill="#222" stroke="#222">3,000</text>
<line x1="75.6" y1="317.5" x2="80.6" y2="317.5" stroke="#111" stroke-width="1.3"/>
<text x="71.5" y="321.5" font-size="10" text-anchor="end" fill="#222" stroke="#222">4,000</text>
<line x1="75.6" y1="296.45" x2="80.6" y2="296.45" stroke="#111" stroke-width="1.3"/>
<text x="71.5" y="300.45" font-size="10" text-anchor="end" fill="#222" stroke="#222">5,000</text>
<line x1="75.6" y1="275.4" x2="80.6" y2="275.4" stroke="#111" stroke-width="1.3"/>
<text x="71.5" y="279.4" font-size="10" text-anchor="end" fill="#222" stroke="#222">6,000</text>
<line x1="75.6" y1="254.35" x2="80.6" y2="254.35" stroke="#111" stroke-width="1.3"/>
<text x="71.5" y="258.35" font-size="10" text-anchor="end" fill="#222" stroke="#222">7,000</text>
<line x1="80.6" y1="401.7" x2="80.6" y2="406.3" stroke="#111" stroke-width="1.4"/>
<line x1="107.84" y1="401.7" x2="107.84" y2="406.3" stroke="#111" stroke-width="1.4"/>
<line x1="135.08" y1="401.7" x2="135.08" y2="406.3" stroke="#111" stroke-width="1.4"/>
<line x1="162.32" y1="401.7" x2="162.32" y2="406.3" stroke="#111" stroke-width="1.4"/>
<line x1="189.56" y1="401.7" x2="189.56" y2="406.3" stroke="#111" stroke-width="1.4"/>
<line x1="216.8" y1="401.7" x2="216.8" y2="406.3" stroke="#111" stroke-width="1.4"/>
<line x1="244.04" y1="401.7" x2="244.04" y2="406.3" stroke="#111" stroke-width="1.4"/>
<line x1="271.28" y1="401.7" x2="271.28" y2="406.3" stroke="#111" stroke-width="1.4"/>
<line x1="298.52" y1="401.7" x2="298.52" y2="406.3" stroke="#111" stroke-width="1.4"/>
<line x1="325.76" y1="401.7" x2="325.76" y2="406.3" stroke="#111" stroke-width="1.4"/>
<line x1="353" y1="401.7" x2="353" y2="406.3" stroke="#111" stroke-width="1.4"/>
<line x1="380.24" y1="401.7" x2="380.24" y2="406.3" stroke="#111" stroke-width="1.4"/>
<line x1="407.48" y1="401.7" x2="407.48" y2="406.3" stroke="#111" stroke-width="1.4"/>
<line x1="434.72" y1="401.7" x2="434.72" y2="406.3" stroke="#111" stroke-width="1.4"/>
<line x1="461.96" y1="401.7" x2="461.96" y2="406.3" stroke="#111" stroke-width="1.4"/>
<line x1="489.2" y1="401.7" x2="489.2" y2="406.3" stroke="#111" stroke-width="1.4"/>
<text x="93.95" y="420.6" font-size="10" text-anchor="middle" fill="#222" stroke="#222">-</text>
<text x="121.19" y="420.6" font-size="10" text-anchor="middle" fill="#222" stroke="#222">0.1</text>
<text x="148.43" y="420.6" font-size="10" text-anchor="middle" fill="#222" stroke="#222">0.5</text>
<text x="175.67" y="420.6" font-size="10" text-anchor="middle" fill="#222" stroke="#222">1</text>
<text x="202.91" y="420.6" font-size="10" text-anchor="middle" fill="#222" stroke="#222">2</text>
<text x="230.15" y="420.6" font-size="10" text-anchor="middle" fill="#222" stroke="#222">-</text>
<text x="257.39" y="420.6" font-size="10" text-anchor="middle" fill="#222" stroke="#222">0.1</text>
<text x="284.63" y="420.6" font-size="10" text-anchor="middle" fill="#222" stroke="#222">0.5</text>
<text x="311.87" y="420.6" font-size="10" text-anchor="middle" fill="#222" stroke="#222">1</text>
<text x="339.11" y="420.6" font-size="10" text-anchor="middle" fill="#222" stroke="#222">2</text>
<text x="366.35" y="420.6" font-size="10" text-anchor="middle" fill="#222" stroke="#222">-</text>
<text x="393.59" y="420.6" font-size="10" text-anchor="middle" fill="#222" stroke="#222">0.1</text>
<text x="420.83" y="420.6" font-size="10" text-anchor="middle" fill="#222" stroke="#222">0.5</text>
<text x="448.07" y="420.6" font-size="10" text-anchor="middle" fill="#222" stroke="#222">1</text>
<text x="475.31" y="420.6" font-size="10" text-anchor="middle" fill="#222" stroke="#222">2</text>
<line x1="75.6" y1="245.6" x2="206.7" y2="245.6" stroke="#111" stroke-width="1.4"/>
<text x="140.8" y="239.3" font-size="10" text-anchor="middle" textLength="28" lengthAdjust="spacingAndGlyphs" fill="#222" stroke="#222">no TM</text>
<line x1="211.5" y1="245.6" x2="344.8" y2="245.6" stroke="#111" stroke-width="1.4"/>
<text x="278.5" y="239.3" font-size="10" text-anchor="middle" textLength="63" lengthAdjust="spacingAndGlyphs" fill="#222" stroke="#222">+ 1.25 nM TM</text>
<line x1="350.8" y1="245.6" x2="489" y2="245.6" stroke="#111" stroke-width="1.4"/>
<text x="420" y="239.3" font-size="10" text-anchor="middle" textLength="55.5" lengthAdjust="spacingAndGlyphs" fill="#222" stroke="#222">+ 10 nM TM</text>
<path d="M93.95 443.2 L204.45 430.1 L204.45 443.2 Z" fill="none" stroke="#111" stroke-width="1.6" stroke-linejoin="miter"/>
<path d="M230.15 443.2 L340.65 430.1 L340.65 443.2 Z" fill="none" stroke="#111" stroke-width="1.6" stroke-linejoin="miter"/>
<path d="M366.35 443.2 L476.85 430.1 L476.85 443.2 Z" fill="none" stroke="#111" stroke-width="1.6" stroke-linejoin="miter"/>
<text x="41" y="431" font-size="10" text-anchor="middle" fill="#222" stroke="#222" textLength="29.5" lengthAdjust="spacingAndGlyphs">[α<tspan font-size="7" dy="2">1</tspan><tspan dy="-2">AT]</tspan></text>
<text x="41" y="443" font-size="10" text-anchor="middle" fill="#222" stroke="#222">(μM)</text>
<text transform="translate(37.1 325.5) rotate(-90)" text-anchor="middle" font-size="12" fill="#222" stroke="#222" textLength="84" lengthAdjust="spacingAndGlyphs">[Thrombin] (nM)</text>
<text x="8.1" y="482.7" font-size="17.5" font-weight="bold" fill="#000" stroke="#000">D</text>
<rect x="81.9" y="580.02" width="19.5" height="79.38" fill="#a20d2a"/>
<rect x="109.17" y="558.48" width="19.5" height="100.92" fill="#a20d2a"/>
<rect x="136.44" y="556.4" width="19.5" height="103" fill="#a20d2a"/>
<rect x="163.71" y="557.6" width="19.5" height="101.8" fill="#a20d2a"/>
<rect x="190.98" y="556.69" width="19.5" height="102.71" fill="#a20d2a"/>
<rect x="218.25" y="639.46" width="19.5" height="19.94" fill="#2e4a7e"/>
<rect x="245.52" y="603.86" width="19.5" height="55.54" fill="#2e4a7e"/>
<rect x="272.79" y="587.31" width="19.5" height="72.09" fill="#2e4a7e"/>
<rect x="300.06" y="573.74" width="19.5" height="85.66" fill="#2e4a7e"/>
<rect x="327.33" y="568.57" width="19.5" height="90.83" fill="#2e4a7e"/>
<rect x="354.6" y="658.91" width="19.5" height="0.49" fill="#68a83e"/>
<rect x="381.87" y="641.25" width="19.5" height="18.15" fill="#68a83e"/>
<rect x="409.14" y="622.9" width="19.5" height="36.5" fill="#68a83e"/>
<rect x="436.41" y="607.84" width="19.5" height="51.56" fill="#68a83e"/>
<rect x="463.68" y="595.57" width="19.5" height="63.83" fill="#68a83e"/>
<line x1="91.65" y1="580.02" x2="91.65" y2="564.38" stroke="#111" stroke-width="1.6"/>
<line x1="89.25" y1="563.88" x2="94.05" y2="563.88" stroke="#111" stroke-width="1.9"/>
<line x1="118.92" y1="558.48" x2="118.92" y2="538.26" stroke="#111" stroke-width="1.6"/>
<line x1="116.52" y1="537.76" x2="121.32" y2="537.76" stroke="#111" stroke-width="1.9"/>
<line x1="146.19" y1="556.4" x2="146.19" y2="535.66" stroke="#111" stroke-width="1.6"/>
<line x1="143.79" y1="535.16" x2="148.59" y2="535.16" stroke="#111" stroke-width="1.9"/>
<line x1="173.46" y1="557.6" x2="173.46" y2="544.02" stroke="#111" stroke-width="1.6"/>
<line x1="171.06" y1="543.52" x2="175.86" y2="543.52" stroke="#111" stroke-width="1.9"/>
<line x1="200.73" y1="556.69" x2="200.73" y2="535.66" stroke="#111" stroke-width="1.6"/>
<line x1="198.33" y1="535.16" x2="203.13" y2="535.16" stroke="#111" stroke-width="1.9"/>
<line x1="228" y1="639.46" x2="228" y2="631.37" stroke="#111" stroke-width="1.6"/>
<line x1="225.6" y1="630.87" x2="230.4" y2="630.87" stroke="#111" stroke-width="1.9"/>
<line x1="255.27" y1="603.86" x2="255.27" y2="587.81" stroke="#111" stroke-width="1.6"/>
<line x1="252.87" y1="587.31" x2="257.67" y2="587.31" stroke="#111" stroke-width="1.9"/>
<line x1="282.54" y1="587.31" x2="282.54" y2="569.95" stroke="#111" stroke-width="1.6"/>
<line x1="280.14" y1="569.45" x2="284.94" y2="569.45" stroke="#111" stroke-width="1.9"/>
<line x1="309.81" y1="573.74" x2="309.81" y2="558.59" stroke="#111" stroke-width="1.6"/>
<line x1="307.41" y1="558.09" x2="312.21" y2="558.09" stroke="#111" stroke-width="1.9"/>
<line x1="337.08" y1="568.57" x2="337.08" y2="547.33" stroke="#111" stroke-width="1.6"/>
<line x1="334.68" y1="546.83" x2="339.48" y2="546.83" stroke="#111" stroke-width="1.9"/>
<line x1="364.35" y1="658.91" x2="364.35" y2="658.67" stroke="#111" stroke-width="1.6"/>
<line x1="361.95" y1="658.17" x2="366.75" y2="658.17" stroke="#111" stroke-width="1.9"/>
<line x1="391.62" y1="641.25" x2="391.62" y2="636.28" stroke="#111" stroke-width="1.6"/>
<line x1="389.22" y1="635.78" x2="394.02" y2="635.78" stroke="#111" stroke-width="1.9"/>
<line x1="418.89" y1="622.9" x2="418.89" y2="621.22" stroke="#111" stroke-width="1.6"/>
<line x1="416.49" y1="620.72" x2="421.29" y2="620.72" stroke="#111" stroke-width="1.9"/>
<line x1="446.16" y1="607.84" x2="446.16" y2="603.16" stroke="#111" stroke-width="1.6"/>
<line x1="443.76" y1="602.66" x2="448.56" y2="602.66" stroke="#111" stroke-width="1.9"/>
<line x1="473.43" y1="595.57" x2="473.43" y2="589.6" stroke="#111" stroke-width="1.6"/>
<line x1="471.03" y1="589.1" x2="475.83" y2="589.1" stroke="#111" stroke-width="1.9"/>
<line x1="77.8" y1="509.22" x2="77.8" y2="660.2" stroke="#111" stroke-width="1.7"/>
<line x1="77" y1="659.4" x2="491.5" y2="659.4" stroke="#111" stroke-width="1.7"/>
<line x1="72.8" y1="659.4" x2="77.8" y2="659.4" stroke="#111" stroke-width="1.3"/>
<text x="68.5" y="663.4" font-size="10" text-anchor="end" fill="#222" stroke="#222">0</text>
<line x1="72.8" y1="634.87" x2="77.8" y2="634.87" stroke="#111" stroke-width="1.3"/>
<text x="68.5" y="638.87" font-size="10" text-anchor="end" fill="#222" stroke="#222">1,000</text>
<line x1="72.8" y1="610.34" x2="77.8" y2="610.34" stroke="#111" stroke-width="1.3"/>
<text x="68.5" y="614.34" font-size="10" text-anchor="end" fill="#222" stroke="#222">2,000</text>
<line x1="72.8" y1="585.81" x2="77.8" y2="585.81" stroke="#111" stroke-width="1.3"/>
<text x="68.5" y="589.81" font-size="10" text-anchor="end" fill="#222" stroke="#222">3,000</text>
<line x1="72.8" y1="561.28" x2="77.8" y2="561.28" stroke="#111" stroke-width="1.3"/>
<text x="68.5" y="565.28" font-size="10" text-anchor="end" fill="#222" stroke="#222">4,000</text>
<line x1="72.8" y1="536.75" x2="77.8" y2="536.75" stroke="#111" stroke-width="1.3"/>
<text x="68.5" y="540.75" font-size="10" text-anchor="end" fill="#222" stroke="#222">5,000</text>
<line x1="72.8" y1="512.22" x2="77.8" y2="512.22" stroke="#111" stroke-width="1.3"/>
<text x="68.5" y="516.22" font-size="10" text-anchor="end" fill="#222" stroke="#222">6,000</text>
<line x1="77.8" y1="659.4" x2="77.8" y2="664" stroke="#111" stroke-width="1.4"/>
<line x1="105.07" y1="659.4" x2="105.07" y2="664" stroke="#111" stroke-width="1.4"/>
<line x1="132.34" y1="659.4" x2="132.34" y2="664" stroke="#111" stroke-width="1.4"/>
<line x1="159.61" y1="659.4" x2="159.61" y2="664" stroke="#111" stroke-width="1.4"/>
<line x1="186.88" y1="659.4" x2="186.88" y2="664" stroke="#111" stroke-width="1.4"/>
<line x1="214.15" y1="659.4" x2="214.15" y2="664" stroke="#111" stroke-width="1.4"/>
<line x1="241.42" y1="659.4" x2="241.42" y2="664" stroke="#111" stroke-width="1.4"/>
<line x1="268.69" y1="659.4" x2="268.69" y2="664" stroke="#111" stroke-width="1.4"/>
<line x1="295.96" y1="659.4" x2="295.96" y2="664" stroke="#111" stroke-width="1.4"/>
<line x1="323.23" y1="659.4" x2="323.23" y2="664" stroke="#111" stroke-width="1.4"/>
<line x1="350.5" y1="659.4" x2="350.5" y2="664" stroke="#111" stroke-width="1.4"/>
<line x1="377.77" y1="659.4" x2="377.77" y2="664" stroke="#111" stroke-width="1.4"/>
<line x1="405.04" y1="659.4" x2="405.04" y2="664" stroke="#111" stroke-width="1.4"/>
<line x1="432.31" y1="659.4" x2="432.31" y2="664" stroke="#111" stroke-width="1.4"/>
<line x1="459.58" y1="659.4" x2="459.58" y2="664" stroke="#111" stroke-width="1.4"/>
<line x1="486.85" y1="659.4" x2="486.85" y2="664" stroke="#111" stroke-width="1.4"/>
<text x="91.65" y="678.3" font-size="10" text-anchor="middle" fill="#222" stroke="#222">-</text>
<text x="118.92" y="678.3" font-size="10" text-anchor="middle" fill="#222" stroke="#222">0.25</text>
<text x="146.19" y="678.3" font-size="10" text-anchor="middle" fill="#222" stroke="#222">0.5</text>
<text x="173.46" y="678.3" font-size="10" text-anchor="middle" fill="#222" stroke="#222">1</text>
<text x="200.73" y="678.3" font-size="10" text-anchor="middle" fill="#222" stroke="#222">2</text>
<text x="228" y="678.3" font-size="10" text-anchor="middle" fill="#222" stroke="#222">-</text>
<text x="255.27" y="678.3" font-size="10" text-anchor="middle" fill="#222" stroke="#222">0.25</text>
<text x="282.54" y="678.3" font-size="10" text-anchor="middle" fill="#222" stroke="#222">0.5</text>
<text x="309.81" y="678.3" font-size="10" text-anchor="middle" fill="#222" stroke="#222">1</text>
<text x="337.08" y="678.3" font-size="10" text-anchor="middle" fill="#222" stroke="#222">2</text>
<text x="364.35" y="678.3" font-size="10" text-anchor="middle" fill="#222" stroke="#222">-</text>
<text x="391.62" y="678.3" font-size="10" text-anchor="middle" fill="#222" stroke="#222">0.25</text>
<text x="418.89" y="678.3" font-size="10" text-anchor="middle" fill="#222" stroke="#222">0.5</text>
<text x="446.16" y="678.3" font-size="10" text-anchor="middle" fill="#222" stroke="#222">1</text>
<text x="473.43" y="678.3" font-size="10" text-anchor="middle" fill="#222" stroke="#222">2</text>
<line x1="73.8" y1="503.3" x2="204.3" y2="503.3" stroke="#111" stroke-width="1.4"/>
<text x="138.8" y="497" font-size="10" text-anchor="middle" textLength="28" lengthAdjust="spacingAndGlyphs" fill="#222" stroke="#222">no TM</text>
<line x1="209" y1="503.3" x2="343.4" y2="503.3" stroke="#111" stroke-width="1.4"/>
<text x="276.2" y="497" font-size="10" text-anchor="middle" textLength="63" lengthAdjust="spacingAndGlyphs" fill="#222" stroke="#222">+ 1.25 nM TM</text>
<line x1="348.4" y1="503.3" x2="487.1" y2="503.3" stroke="#111" stroke-width="1.4"/>
<text x="417.2" y="497" font-size="10" text-anchor="middle" textLength="49" lengthAdjust="spacingAndGlyphs" fill="#222" stroke="#222">+ 5 nM TM</text>
<path d="M91.65 702.2 L202.65 688.5 L202.65 702.2 Z" fill="none" stroke="#111" stroke-width="1.6" stroke-linejoin="miter"/>
<path d="M228 702.2 L339 688.5 L339 702.2 Z" fill="none" stroke="#111" stroke-width="1.6" stroke-linejoin="miter"/>
<path d="M364.35 702.2 L475.35 688.5 L475.35 702.2 Z" fill="none" stroke="#111" stroke-width="1.6" stroke-linejoin="miter"/>
<text x="40" y="689" font-size="10" text-anchor="middle" fill="#222" stroke="#222" textLength="29.5" lengthAdjust="spacingAndGlyphs">[α<tspan font-size="7" dy="2">1</tspan><tspan dy="-2">AT]</tspan></text>
<text x="40" y="701" font-size="10" text-anchor="middle" fill="#222" stroke="#222">(μM)</text>
<text transform="translate(35 583.5) rotate(-90)" text-anchor="middle" font-size="12" fill="#222" stroke="#222" textLength="85" lengthAdjust="spacingAndGlyphs">[Thrombin] (nM)</text>
<text x="8.1" y="740.8" font-size="17.5" font-weight="bold" fill="#000" stroke="#000">E</text>
<rect x="82.9" y="793.71" width="19.5" height="123.69" fill="#a20d2a"/>
<rect x="110.12" y="783.79" width="19.5" height="133.61" fill="#a20d2a"/>
<rect x="137.34" y="790.29" width="19.5" height="127.11" fill="#a20d2a"/>
<rect x="164.56" y="786.31" width="19.5" height="131.09" fill="#a20d2a"/>
<rect x="191.78" y="786.89" width="19.5" height="130.51" fill="#a20d2a"/>
<rect x="219" y="830.8" width="19.5" height="86.6" fill="#2e4a7e"/>
<rect x="246.22" y="816.31" width="19.5" height="101.09" fill="#2e4a7e"/>
<rect x="273.44" y="804" width="19.5" height="113.4" fill="#2e4a7e"/>
<rect x="300.66" y="804.61" width="19.5" height="112.79" fill="#2e4a7e"/>
<rect x="327.88" y="793.81" width="19.5" height="123.59" fill="#2e4a7e"/>
<rect x="355.1" y="876.9" width="19.5" height="40.5" fill="#68a83e"/>
<rect x="382.32" y="848.61" width="19.5" height="68.79" fill="#68a83e"/>
<rect x="409.54" y="837.81" width="19.5" height="79.59" fill="#68a83e"/>
<rect x="436.76" y="826.2" width="19.5" height="91.2" fill="#68a83e"/>
<rect x="463.98" y="808" width="19.5" height="109.4" fill="#68a83e"/>
<line x1="92.65" y1="793.71" x2="92.65" y2="784" stroke="#111" stroke-width="1.6"/>
<line x1="90.25" y1="783.5" x2="95.05" y2="783.5" stroke="#111" stroke-width="1.9"/>
<line x1="119.87" y1="783.79" x2="119.87" y2="780.99" stroke="#111" stroke-width="1.6"/>
<line x1="117.47" y1="780.49" x2="122.27" y2="780.49" stroke="#111" stroke-width="1.9"/>
<line x1="147.09" y1="790.29" x2="147.09" y2="780.31" stroke="#111" stroke-width="1.6"/>
<line x1="144.69" y1="779.81" x2="149.49" y2="779.81" stroke="#111" stroke-width="1.9"/>
<line x1="174.31" y1="786.31" x2="174.31" y2="783.39" stroke="#111" stroke-width="1.6"/>
<line x1="171.91" y1="782.89" x2="176.71" y2="782.89" stroke="#111" stroke-width="1.9"/>
<line x1="201.53" y1="786.89" x2="201.53" y2="783.39" stroke="#111" stroke-width="1.6"/>
<line x1="199.13" y1="782.89" x2="203.93" y2="782.89" stroke="#111" stroke-width="1.9"/>
<line x1="228.75" y1="830.8" x2="228.75" y2="820.5" stroke="#111" stroke-width="1.6"/>
<line x1="226.35" y1="820" x2="231.15" y2="820" stroke="#111" stroke-width="1.9"/>
<line x1="255.97" y1="816.31" x2="255.97" y2="801.39" stroke="#111" stroke-width="1.6"/>
<line x1="253.57" y1="800.89" x2="258.37" y2="800.89" stroke="#111" stroke-width="1.9"/>
<line x1="283.19" y1="804" x2="283.19" y2="791.3" stroke="#111" stroke-width="1.6"/>
<line x1="280.79" y1="790.8" x2="285.59" y2="790.8" stroke="#111" stroke-width="1.9"/>
<line x1="310.41" y1="804.61" x2="310.41" y2="791.3" stroke="#111" stroke-width="1.6"/>
<line x1="308.01" y1="790.8" x2="312.81" y2="790.8" stroke="#111" stroke-width="1.9"/>
<line x1="337.63" y1="793.81" x2="337.63" y2="787.3" stroke="#111" stroke-width="1.6"/>
<line x1="335.23" y1="786.8" x2="340.03" y2="786.8" stroke="#111" stroke-width="1.9"/>
<line x1="364.85" y1="876.9" x2="364.85" y2="855.9" stroke="#111" stroke-width="1.6"/>
<line x1="362.45" y1="855.4" x2="367.25" y2="855.4" stroke="#111" stroke-width="1.9"/>
<line x1="392.07" y1="848.61" x2="392.07" y2="828.8" stroke="#111" stroke-width="1.6"/>
<line x1="389.67" y1="828.3" x2="394.47" y2="828.3" stroke="#111" stroke-width="1.9"/>
<line x1="419.29" y1="837.81" x2="419.29" y2="808.21" stroke="#111" stroke-width="1.6"/>
<line x1="416.89" y1="807.71" x2="421.69" y2="807.71" stroke="#111" stroke-width="1.9"/>
<line x1="446.51" y1="826.2" x2="446.51" y2="799.61" stroke="#111" stroke-width="1.6"/>
<line x1="444.11" y1="799.11" x2="448.91" y2="799.11" stroke="#111" stroke-width="1.9"/>
<line x1="473.73" y1="808" x2="473.73" y2="797.41" stroke="#111" stroke-width="1.6"/>
<line x1="471.33" y1="796.91" x2="476.13" y2="796.91" stroke="#111" stroke-width="1.9"/>
<line x1="78.8" y1="767.82" x2="78.8" y2="918.2" stroke="#111" stroke-width="1.7"/>
<line x1="78" y1="917.4" x2="492.3" y2="917.4" stroke="#111" stroke-width="1.7"/>
<line x1="73.8" y1="917.4" x2="78.8" y2="917.4" stroke="#111" stroke-width="1.3"/>
<text x="69.5" y="921.4" font-size="10" text-anchor="end" fill="#222" stroke="#222">0</text>
<line x1="73.8" y1="892.97" x2="78.8" y2="892.97" stroke="#111" stroke-width="1.3"/>
<text x="69.5" y="896.97" font-size="10" text-anchor="end" fill="#222" stroke="#222">1,000</text>
<line x1="73.8" y1="868.54" x2="78.8" y2="868.54" stroke="#111" stroke-width="1.3"/>
<text x="69.5" y="872.54" font-size="10" text-anchor="end" fill="#222" stroke="#222">2,000</text>
<line x1="73.8" y1="844.11" x2="78.8" y2="844.11" stroke="#111" stroke-width="1.3"/>
<text x="69.5" y="848.11" font-size="10" text-anchor="end" fill="#222" stroke="#222">3,000</text>
<line x1="73.8" y1="819.68" x2="78.8" y2="819.68" stroke="#111" stroke-width="1.3"/>
<text x="69.5" y="823.68" font-size="10" text-anchor="end" fill="#222" stroke="#222">4,000</text>
<line x1="73.8" y1="795.25" x2="78.8" y2="795.25" stroke="#111" stroke-width="1.3"/>
<text x="69.5" y="799.25" font-size="10" text-anchor="end" fill="#222" stroke="#222">5,000</text>
<line x1="73.8" y1="770.82" x2="78.8" y2="770.82" stroke="#111" stroke-width="1.3"/>
<text x="69.5" y="774.82" font-size="10" text-anchor="end" fill="#222" stroke="#222">6,000</text>
<line x1="78.8" y1="917.4" x2="78.8" y2="922" stroke="#111" stroke-width="1.4"/>
<line x1="106.02" y1="917.4" x2="106.02" y2="922" stroke="#111" stroke-width="1.4"/>
<line x1="133.24" y1="917.4" x2="133.24" y2="922" stroke="#111" stroke-width="1.4"/>
<line x1="160.46" y1="917.4" x2="160.46" y2="922" stroke="#111" stroke-width="1.4"/>
<line x1="187.68" y1="917.4" x2="187.68" y2="922" stroke="#111" stroke-width="1.4"/>
<line x1="214.9" y1="917.4" x2="214.9" y2="922" stroke="#111" stroke-width="1.4"/>
<line x1="242.12" y1="917.4" x2="242.12" y2="922" stroke="#111" stroke-width="1.4"/>
<line x1="269.34" y1="917.4" x2="269.34" y2="922" stroke="#111" stroke-width="1.4"/>
<line x1="296.56" y1="917.4" x2="296.56" y2="922" stroke="#111" stroke-width="1.4"/>
<line x1="323.78" y1="917.4" x2="323.78" y2="922" stroke="#111" stroke-width="1.4"/>
<line x1="351" y1="917.4" x2="351" y2="922" stroke="#111" stroke-width="1.4"/>
<line x1="378.22" y1="917.4" x2="378.22" y2="922" stroke="#111" stroke-width="1.4"/>
<line x1="405.44" y1="917.4" x2="405.44" y2="922" stroke="#111" stroke-width="1.4"/>
<line x1="432.66" y1="917.4" x2="432.66" y2="922" stroke="#111" stroke-width="1.4"/>
<line x1="459.88" y1="917.4" x2="459.88" y2="922" stroke="#111" stroke-width="1.4"/>
<line x1="487.1" y1="917.4" x2="487.1" y2="922" stroke="#111" stroke-width="1.4"/>
<text x="92.65" y="936.3" font-size="10" text-anchor="middle" fill="#222" stroke="#222">-</text>
<text x="119.87" y="936.3" font-size="10" text-anchor="middle" fill="#222" stroke="#222">0.25</text>
<text x="147.09" y="936.3" font-size="10" text-anchor="middle" fill="#222" stroke="#222">0.5</text>
<text x="174.31" y="936.3" font-size="10" text-anchor="middle" fill="#222" stroke="#222">1</text>
<text x="201.53" y="936.3" font-size="10" text-anchor="middle" fill="#222" stroke="#222">2</text>
<text x="228.75" y="936.3" font-size="10" text-anchor="middle" fill="#222" stroke="#222">-</text>
<text x="255.97" y="936.3" font-size="10" text-anchor="middle" fill="#222" stroke="#222">0.25</text>
<text x="283.19" y="936.3" font-size="10" text-anchor="middle" fill="#222" stroke="#222">0.5</text>
<text x="310.41" y="936.3" font-size="10" text-anchor="middle" fill="#222" stroke="#222">1</text>
<text x="337.63" y="936.3" font-size="10" text-anchor="middle" fill="#222" stroke="#222">2</text>
<text x="364.85" y="936.3" font-size="10" text-anchor="middle" fill="#222" stroke="#222">-</text>
<text x="392.07" y="936.3" font-size="10" text-anchor="middle" fill="#222" stroke="#222">0.25</text>
<text x="419.29" y="936.3" font-size="10" text-anchor="middle" fill="#222" stroke="#222">0.5</text>
<text x="446.51" y="936.3" font-size="10" text-anchor="middle" fill="#222" stroke="#222">1</text>
<text x="473.73" y="936.3" font-size="10" text-anchor="middle" fill="#222" stroke="#222">2</text>
<line x1="74.8" y1="761.2" x2="205.1" y2="761.2" stroke="#111" stroke-width="1.4"/>
<text x="139.8" y="754.9" font-size="10" text-anchor="middle" textLength="28" lengthAdjust="spacingAndGlyphs" fill="#222" stroke="#222">no TM</text>
<line x1="209.3" y1="761.2" x2="343.5" y2="761.2" stroke="#111" stroke-width="1.4"/>
<text x="276.4" y="754.9" font-size="10" text-anchor="middle" textLength="63" lengthAdjust="spacingAndGlyphs" fill="#222" stroke="#222">+ 1.25 nM TM</text>
<line x1="349" y1="761.2" x2="487.3" y2="761.2" stroke="#111" stroke-width="1.4"/>
<text x="418.1" y="754.9" font-size="10" text-anchor="middle" textLength="49" lengthAdjust="spacingAndGlyphs" fill="#222" stroke="#222">+ 5 nM TM</text>
<path d="M92.65 959 L203.65 946 L203.65 959 Z" fill="none" stroke="#111" stroke-width="1.6" stroke-linejoin="miter"/>
<path d="M228.75 959 L339.75 946 L339.75 959 Z" fill="none" stroke="#111" stroke-width="1.6" stroke-linejoin="miter"/>
<path d="M364.85 959 L475.85 946 L475.85 959 Z" fill="none" stroke="#111" stroke-width="1.6" stroke-linejoin="miter"/>
<text x="40" y="947" font-size="10" text-anchor="middle" fill="#222" stroke="#222" textLength="29.5" lengthAdjust="spacingAndGlyphs">[α<tspan font-size="7" dy="2">1</tspan><tspan dy="-2">AT]</tspan></text>
<text x="40" y="959" font-size="10" text-anchor="middle" fill="#222" stroke="#222">(μM)</text>
<text transform="translate(35.4 841.8) rotate(-90)" text-anchor="middle" font-size="12" fill="#222" stroke="#222" textLength="85" lengthAdjust="spacingAndGlyphs">[Thrombin] (nM)</text>
<rect x="1" y="1" width="518" height="971" fill="none" stroke="#000" stroke-width="2"/>
</svg>
</body></html>
